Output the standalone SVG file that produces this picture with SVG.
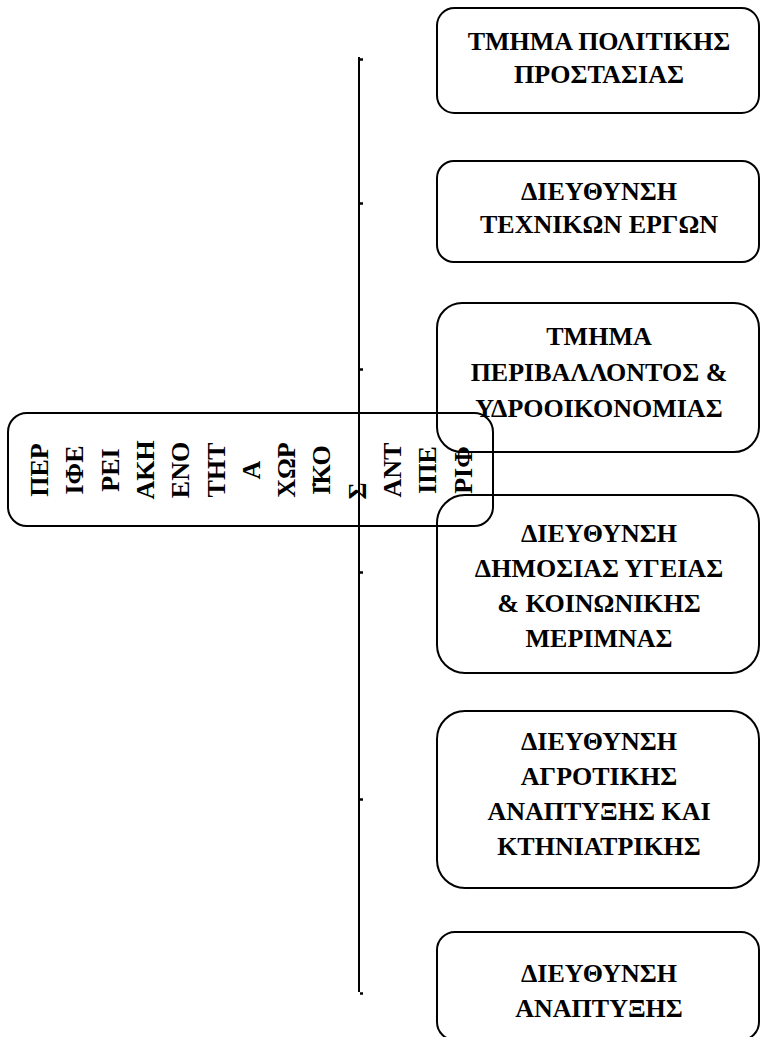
<svg xmlns="http://www.w3.org/2000/svg" width="760" height="1037" viewBox="0 0 760 1037">
<style>
.box{fill:none;stroke:#000;stroke-width:2}
.t{font-family:"Liberation Serif","Times New Roman",serif;font-weight:bold;font-size:26px;fill:#000;text-anchor:middle}
.line{stroke:#000;stroke-width:2;fill:none}
.tick{stroke:#000;stroke-width:2.5}
</style>
<rect width="760" height="1037" fill="#fff"/>
<g id="connectors">
<line class="line" x1="359" y1="57" x2="359" y2="992"/>
<line class="tick" x1="360" y1="59.5" x2="363" y2="59.5"/>
<line class="tick" x1="360" y1="203.5" x2="363" y2="203.5"/>
<line class="tick" x1="360" y1="369.5" x2="363" y2="369.5"/>
<line class="tick" x1="360" y1="572.5" x2="363" y2="572.5"/>
<line class="tick" x1="360" y1="799.5" x2="363" y2="799.5"/>
<line class="tick" x1="360" y1="993.5" x2="363" y2="993.5"/>
</g>
<g id="node-main">
<rect class="box" x="8" y="413" width="485" height="113" rx="19" ry="19"/>
<text class="t" transform="matrix(0,-1,1,0,48,470)">ΠΕΡ</text>
<text class="t" transform="matrix(0,-1,1,0,83.3,470)">ΙΦΕ</text>
<text class="t" transform="matrix(0,-1,1,0,118.6,470)">ΡΕΙ</text>
<text class="t" transform="matrix(0,-1,1,0,153.9,470)">ΑΚΗ</text>
<text class="t" transform="matrix(0,-1,1,0,189.2,470)">ΕΝΟ</text>
<text class="t" transform="matrix(0,-1,1,0,224.5,470)">ΤΗΤ</text>
<text class="t" transform="matrix(0,-1,1,0,259.8,470)">Α</text>
<text class="t" transform="matrix(0,-1,1,0,295.1,470)">ΧΩΡ</text>
<text class="t" transform="matrix(0,-1,1,0,330.4,470)">Ι̇ΚΟ</text>
<text class="t" transform="matrix(0,-1,1,0,365.7,491)">Σ</text>
<text class="t" transform="matrix(0,-1,1,0,401,470)">ΑΝΤ</text>
<text class="t" transform="matrix(0,-1,1,0,436.3,470)">ΙΠΕ</text>
<text class="t" transform="matrix(0,-1,1,0,471.6,470)">ΡΙΦ</text>
</g>
<g id="node-1">
<rect class="box" x="437" y="8" width="322" height="105" rx="17.5" ry="17.5"/>
<text class="t" x="599" y="50">ΤΜΗΜΑ ΠΟΛΙΤΙΚΗΣ</text>
<text class="t" x="599" y="83">ΠΡΟΣΤΑΣΙΑΣ</text>
</g>
<g id="node-2">
<rect class="box" x="437" y="161" width="322" height="101" rx="17" ry="17"/>
<text class="t" x="599" y="200">ΔΙΕΥΘΥΝΣΗ</text>
<text class="t" x="599" y="233">ΤΕΧΝΙΚΩΝ ΕΡΓΩΝ</text>
</g>
<g id="node-3">
<rect class="box" x="437" y="303" width="322" height="149" rx="25" ry="25"/>
<text class="t" x="599" y="345">ΤΜΗΜΑ</text>
<text class="t" x="599" y="381">ΠΕΡΙΒΑΛΛΟΝΤΟΣ &amp;</text>
<text class="t" x="599" y="417">ΥΔΡΟΟΙΚΟΝΟΜΙΑΣ</text>
</g>
<g id="node-4">
<rect class="box" x="437" y="495" width="322" height="178" rx="28" ry="28"/>
<text class="t" x="599" y="542">ΔΙΕΥΘΥΝΣΗ</text>
<text class="t" x="599" y="577">ΔΗΜΟΣΙΑΣ ΥΓΕΙΑΣ</text>
<text class="t" x="599" y="612">&amp; ΚΟΙΝΩΝΙΚΗΣ</text>
<text class="t" x="599" y="647">ΜΕΡΙΜΝΑΣ</text>
</g>
<g id="node-5">
<rect class="box" x="437" y="711" width="322" height="177" rx="28" ry="28"/>
<text class="t" x="599" y="750">ΔΙΕΥΘΥΝΣΗ</text>
<text class="t" x="599" y="785">ΑΓΡΟΤΙΚΗΣ</text>
<text class="t" x="599" y="820">ΑΝΑΠΤΥΞΗΣ ΚΑΙ</text>
<text class="t" x="599" y="855">ΚΤΗΝΙΑΤΡΙΚΗΣ</text>
</g>
<g id="node-6">
<rect class="box" x="437" y="932" width="322" height="108" rx="18" ry="18"/>
<text class="t" x="599" y="982">ΔΙΕΥΘΥΝΣΗ</text>
<text class="t" x="599" y="1017">ΑΝΑΠΤΥΞΗΣ</text>
</g>
</svg>
